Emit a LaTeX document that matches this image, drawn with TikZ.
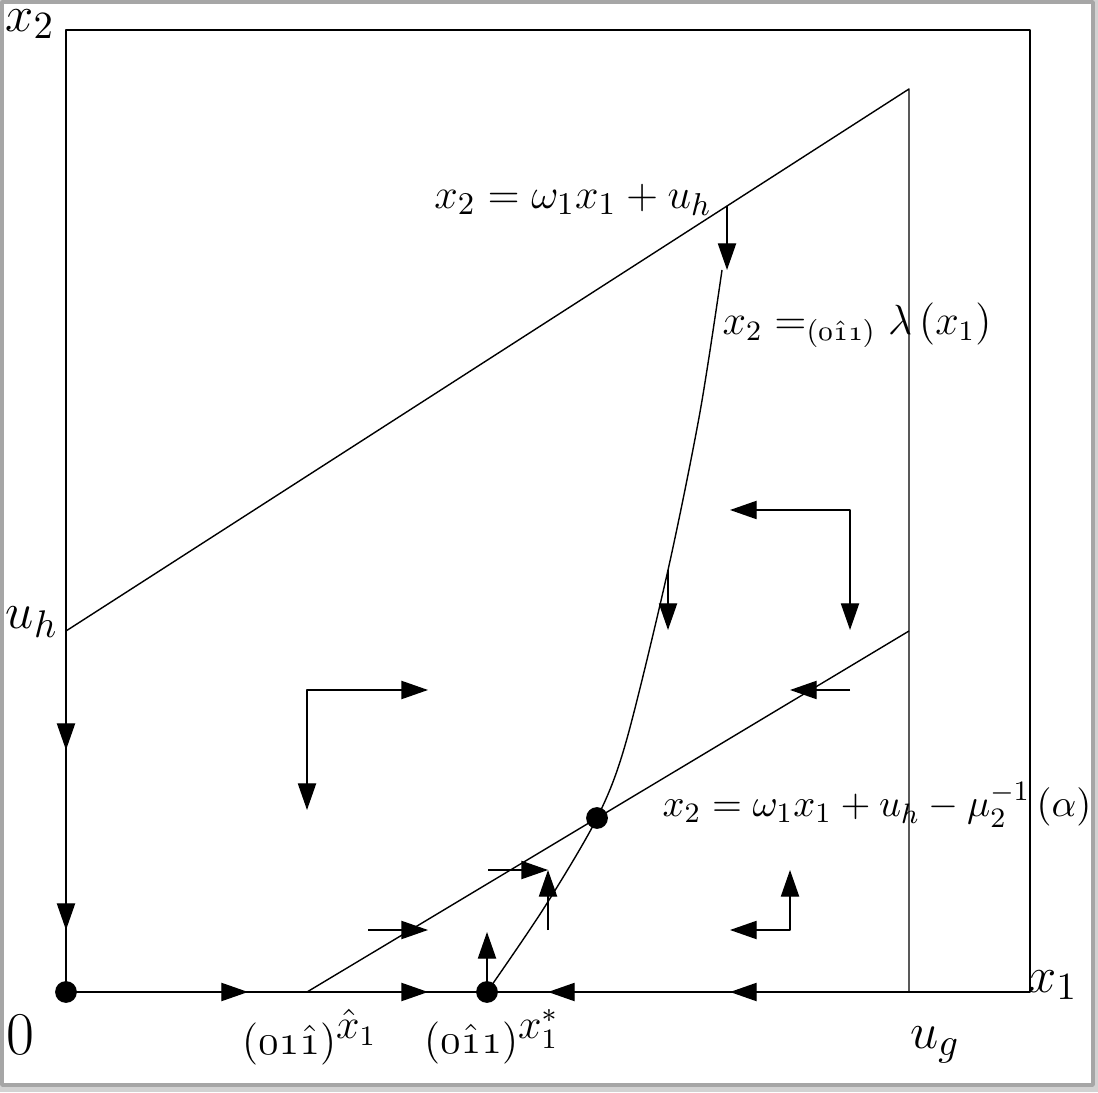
\documentclass[tikz,border=0pt]{standalone}
\usetikzlibrary{arrows.meta}
\begin{document}
\begin{tikzpicture}[>={Triangle[length=7.6pt,width=5.2pt]}, line join=round,
  axlab/.style={font=\fontsize{15.4}{17}\selectfont},
  eqlab/.style={font=\fontsize{12}{14}\selectfont},
  ptlab/.style={font=\fontsize{11.5}{13}\selectfont},
  dot/.style={circle,fill,inner sep=0pt,minimum size=6.2pt}]
  \def\ug{8.43} \def\uh{3.61} % u_g, u_h
  \def\xmax{9.64} \def\ymax{9.62}
  \def\xh{2.41} \def\xs{4.21} % hat x_1, x_1^*
  % frame
  \useasboundingbox (-0.66,-1.00) rectangle (10.32,9.92);
  \fill[gray!35] (-0.66,-1.00) rectangle (10.32,9.92);
  \filldraw[draw=gray!70, fill=white, line width=1pt] (-0.64,-0.93) rectangle (10.27,9.90);
  % points
  \coordinate (O) at (0,0);
  \coordinate (Uh) at (0,\uh);
  \coordinate (Ug) at (\ug,0);
  \coordinate (T) at (\ug,9.03);
  \coordinate (L) at (\ug,\uh);
  \coordinate (Xh) at (\xh,0);
  \coordinate (Xs) at (\xs,0);
  \coordinate (E) at (5.31,1.74);
  % box and lines
  \draw[semithick] (O) rectangle (\xmax,\ymax);
  \draw (Uh) -- (T) -- (Ug);
  \draw (Xh) -- (L);
  \draw[smooth] plot coordinates {(Xs) (4.78,0.84) (E) (5.60,2.50) (6.02,4.22) (6.34,5.80) (6.56,7.22)};
  % flow on the axes
  \draw[->] (0,\uh) -- (0,2.42);
  \draw[->] (0,1.82) -- (0,0.62);
  \draw[->] (0.60,0) -- (1.82,0);
  \draw[->] (\xh,0) -- (3.62,0);
  \draw[->] (6.02,0) -- (4.82,0);
  \draw[->] (7.84,0) -- (6.64,0);
  % flow inside
  \draw[->] (6.61,7.86) -- (6.61,7.22);
  \draw[->] (6.02,4.22) -- (6.02,3.62);
  \draw[<->] (6.64,4.82) -- (7.84,4.82) -- (7.84,3.62);
  \draw[->] (7.84,3.02) -- (7.24,3.02);
  \draw[<->] (3.62,3.02) -- (2.41,3.02) -- (2.41,1.82);
  \draw[->] (3.02,0.62) -- (3.62,0.62);
  \draw[->] (4.22,1.22) -- (4.82,1.22);
  \draw[->] (4.82,0.62) -- (4.82,1.22);
  \draw[->] (Xs) -- (4.21,0.60);
  \draw[<->] (6.64,0.62) -- (7.24,0.62) -- (7.24,1.22);
  % equilibria
  \node[dot] (dO) at (O) {};
  \node[dot] (dXs) at (Xs) {};
  \node[dot] (dE) at (E) {};
  % labels
  \node[axlab] (lx2) at (-0.36,9.68) {$x_2$};
  \node[axlab] (lx1) at (9.87,0.07) {$x_1$};
  \node[axlab] (luh) at (-0.34,3.70) {$u_h$};
  \node[font=\fontsize{19}{21}\selectfont] (lO) at (-0.46,-0.43) {$0$};
  \node[axlab] (lug) at (8.69,-0.53) {$u_g$};
  \node[ptlab] (lxh) at (2.44,-0.45) {$(\mathnormal{01}\hat{\mathnormal{1}})^{\textstyle\hat{x}_1}$};
  \node[ptlab] (lxs) at (4.26,-0.45) {$(\mathnormal{0}\hat{\mathnormal{1}}\mathnormal{1})^{\textstyle x_1^*}$};
  \node[font=\fontsize{12.9}{15}\selectfont] (eqa) at (5.07,7.92) {$x_2=\omega_1x_1+u_h$};
  \node[eqlab] (eqb) at (7.91,6.67) {$x_2=_{(\mathnormal{0}\hat{\mathnormal{1}}\mathnormal{1})}\lambda\left(x_1\right)$};
  \node[font=\fontsize{11}{13}\selectfont] (eqc) at (8.11,1.87) {$x_2=\omega_1x_1+u_h-\mu_2^{-1}\left(\alpha\right)$};
\end{tikzpicture}
\end{document}
